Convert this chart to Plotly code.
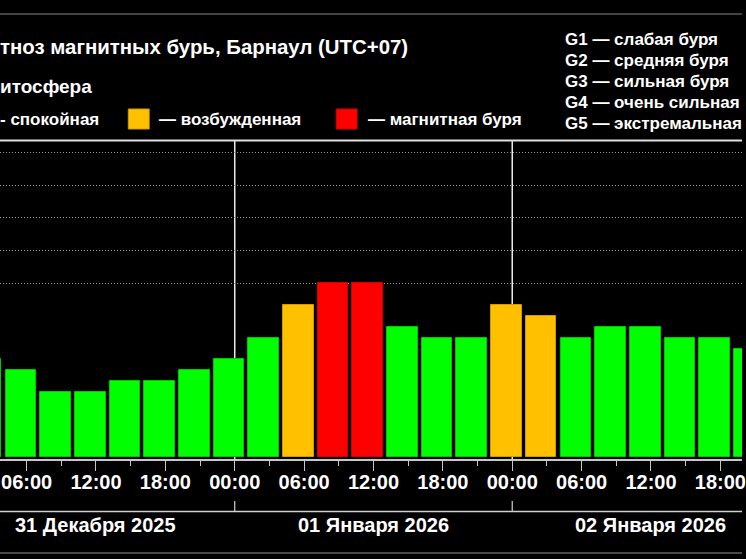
import plotly.graph_objects as go

# ---------------- data ----------------
bar_times = [
    "2025-12-31 02:30", "2025-12-31 05:30", "2025-12-31 08:30", "2025-12-31 11:30",
    "2025-12-31 14:30", "2025-12-31 17:30", "2025-12-31 20:30", "2025-12-31 23:30",
    "2026-01-01 02:30", "2026-01-01 05:30", "2026-01-01 08:30", "2026-01-01 11:30",
    "2026-01-01 14:30", "2026-01-01 17:30", "2026-01-01 20:30", "2026-01-01 23:30",
    "2026-01-02 02:30", "2026-01-02 05:30", "2026-01-02 08:30", "2026-01-02 11:30",
    "2026-01-02 14:30", "2026-01-02 17:30", "2026-01-02 20:30",
]
kp_values = [
    2.67, 2.33, 1.67, 1.67, 2.0, 2.0, 2.33, 2.67,
    3.33, 4.33, 5.0, 5.0, 3.67, 3.33, 3.33, 4.33,
    4.0, 3.33, 3.67, 3.67, 3.33, 3.33, 3.0,
]
day_labels = ["31 Декабря 2025", "01 Января 2026", "02 Января 2026"]
day_noons = ["2025-12-31 12:00", "2026-01-01 12:00", "2026-01-02 12:00"]
midnights = ["2026-01-01 00:00", "2026-01-02 00:00"]
grid_levels = [5, 6, 7, 8, 9]
g_scale = [
    "G1 — слабая буря",
    "G2 — средняя буря",
    "G3 — сильная буря",
    "G4 — очень сильная",
    "G5 — экстремальная",
]
state_labels = ["- спокойная", "— возбужденная", "— магнитная буря"]
state_colors = ["#00ff00", "#ffc000", "#ff0000"]
state_edge = ["#00c800", "#d09a00", "#d00000"]
thresholds = [4, 5]  # >=4 возбужденная, >=5 буря
title_text = "тноз магнитных бурь, Барнаул (UTC+07)"
subtitle_text = "итосфера"

x_range = ["2025-12-31 03:41:56", "2026-01-02 19:52:16"]
y_range = [-0.383, 9.387]
BAR_BASE = -0.32

# ---------------- layout helpers ----------------
W, H = 746, 559
PLOT_TOP, PLOT_BOT = 140, 459
FONT = "Liberation Sans, Arial, sans-serif"


def py(p):
    """pixel y -> paper y"""
    return (PLOT_BOT - p) / (PLOT_BOT - PLOT_TOP)


def px(p):
    return p / W


def state_of(k):
    if k >= thresholds[1]:
        return 2
    if k >= thresholds[0]:
        return 1
    return 0


colors = [state_colors[state_of(k)] for k in kp_values]
edges = [state_edge[state_of(k)] for k in kp_values]

fig = go.Figure()
fig.add_trace(go.Bar(
    x=bar_times,
    y=[k - BAR_BASE for k in kp_values],
    base=BAR_BASE,
    width=2.65 * 3600 * 1000,
    marker=dict(color=colors, line=dict(color=edges, width=1)),
    hoverinfo="skip",
))

shapes = []
for m in midnights:
    shapes.append(dict(type="line", xref="x", yref="paper", x0=m, x1=m, y0=0, y1=1,
                       line=dict(color="#ececec", width=1.5), layer="below"))
    shapes.append(dict(type="line", xref="x", yref="paper", x0=m, x1=m,
                       y0=py(511.5), y1=py(501), line=dict(color="#d0d0d0", width=1.2)))
shapes.append(dict(type="line", xref="paper", yref="paper", x0=0, x1=1, y0=py(140.5), y1=py(140.5),
                   line=dict(color="#e0e0e0", width=2)))
shapes.append(dict(type="line", xref="paper", yref="paper", x0=0, x1=1, y0=py(511.5), y1=py(511.5),
                   line=dict(color="#cfcfcf", width=1.5)))
shapes.append(dict(type="line", xref="paper", yref="paper", x0=0, x1=1, y0=py(14), y1=py(14),
                   line=dict(color="#5a5a5a", width=1.5)))
shapes.append(dict(type="line", xref="paper", yref="paper", x0=0, x1=1, y0=py(553), y1=py(553),
                   line=dict(color="#4a4a4a", width=2)))
for x0, c, e in [(129, state_colors[1], state_edge[1]), (338, state_colors[2], state_edge[2])]:
    shapes.append(dict(type="rect", xref="paper", yref="paper",
                       x0=px(x0), x1=px(x0 + 21), y0=py(129), y1=py(109),
                       fillcolor=c, line=dict(color=e, width=1)))

annotations = []
annotations.append(dict(text=title_text, xref="paper", yref="paper", x=px(0), y=py(47),
                        xanchor="left", yanchor="middle", showarrow=False, xshift=-2,
                        font=dict(family=FONT, size=20.4, color="white", weight="bold")))
annotations.append(dict(text=subtitle_text, xref="paper", yref="paper", x=px(0), y=py(87),
                        xanchor="left", yanchor="middle", showarrow=False, xshift=-2,
                        font=dict(family=FONT, size=19, color="white", weight="bold")))
for txt, xa, anchor, sh in [(state_labels[0], 0, "left", -2), (state_labels[1], 160, "left", -2),
                            (state_labels[2], 370, "left", -2)]:
    annotations.append(dict(text=txt, xref="paper", yref="paper", x=px(xa), y=py(119),
                            xanchor=anchor, yanchor="middle", showarrow=False, xshift=sh,
                            font=dict(family=FONT, size=17, color="white", weight="bold")))
for i, g in enumerate(g_scale):
    annotations.append(dict(text=g, xref="paper", yref="paper", x=px(567), y=py(40 + 20.8 * i),
                            xanchor="left", yanchor="middle", showarrow=False, xshift=-1,
                            font=dict(family=FONT, size=17, color="white", weight="bold")))
for lbl, t in zip(day_labels, day_noons):
    annotations.append(dict(text=lbl, xref="x", yref="paper", x=t, y=py(524.5),
                            xanchor="center", yanchor="middle", showarrow=False,
                            font=dict(family=FONT, size=20, color="white", weight="bold")))

fig.update_layout(
    width=W, height=H,
    margin=dict(l=0, r=0, t=PLOT_TOP, b=H - PLOT_BOT, pad=0),
    paper_bgcolor="black", plot_bgcolor="black",
    showlegend=False,
    bargap=0,
    shapes=shapes,
    annotations=annotations,
    xaxis=dict(
        type="date", range=x_range, fixedrange=True,
        tick0="2025-12-31 00:00", dtick=6 * 3600 * 1000, tickformat="%H:%M",
        ticks="outside", ticklen=10, tickwidth=1, tickcolor="#c8c8c8",
        showline=True, linecolor="#c8c8c8", linewidth=1.5,
        showgrid=False, zeroline=False,
        ticklabeloverflow="allow", ticklabelstandoff=-6,
        tickfont=dict(family=FONT, size=20, color="white", weight="bold"),
        minor=dict(tick0="2025-12-31 00:00", dtick=3 * 3600 * 1000, ticks="outside",
                   ticklen=5, tickcolor="#c8c8c8", showgrid=False),
    ),
    yaxis=dict(
        range=y_range, fixedrange=True,
        tickvals=grid_levels, showticklabels=False, ticks="",
        showgrid=True, gridcolor="#9a9a9a", griddash="1px,2px", gridwidth=1,
        zeroline=False, showline=False,
    ),
)

fig.write_html(
    "out.html",
    config={"displayModeBar": False},
    post_script="document.body.style.margin='0';document.body.style.background='black';",
)
